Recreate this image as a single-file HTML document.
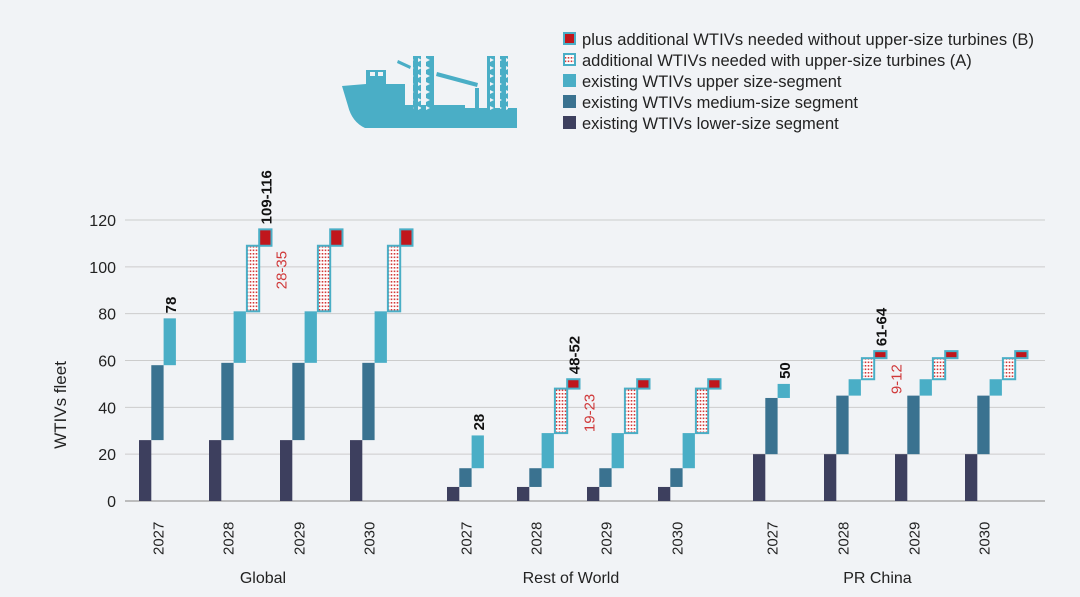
<!DOCTYPE html>
<html><head><meta charset="utf-8"><style>
body{margin:0;background:#f1f3f6;}
svg{display:block;font-family:"Liberation Sans",sans-serif;}
</style></head><body>
<svg id="chart" width="1080" height="597" viewBox="0 0 1080 597">
<defs>
<pattern id="dots" width="3" height="3.5" patternUnits="userSpaceOnUse"><rect width="3" height="3.5" fill="#fff"/><rect x="0.7" y="1" width="1.6" height="1.6" fill="#d23a3a"/></pattern>
<pattern id="lattice" width="8" height="8" patternUnits="userSpaceOnUse"><rect width="8" height="8" fill="#4aaec6"/><path d="M2 2 L6 4 L2 6 Z" fill="#f1f3f6"/></pattern>
</defs>
<rect width="1080" height="597" fill="#f1f3f6"/>
<g fill="#4aaec6">
<path d="M342 86 L366 84 L366 70 L386 70 L386 84 L405 84 L405 105 L465 105 L465 108 L475 108 L475 88 L479 88 L479 108 L517 108 L517 128 L365 128 Q352 122 348 106 Z"/>
<rect x="370" y="72" width="5" height="4" fill="#f1f3f6"/><rect x="378" y="72" width="5" height="4" fill="#f1f3f6"/>
<rect x="413" y="56" width="8" height="54" fill="url(#lattice)"/><rect x="426" y="56" width="8" height="54" fill="url(#lattice)"/>
<rect x="487" y="56" width="8" height="54" fill="url(#lattice)"/><rect x="500" y="56" width="8" height="54" fill="url(#lattice)"/>
<path d="M437 72 L478 83 L477 87 L436 76 Z"/><path d="M398 60 L411 66 L410 69 L397 63 Z"/>
</g>
<g id="legend" font-size="16.5" fill="#222">
<g><rect x="564" y="33" width="11" height="11" fill="#c0161c" stroke="#4aaec6" stroke-width="2"/><text x="582" y="45" textLength="452">plus additional WTIVs needed without upper-size turbines (B)</text></g>
<g><rect x="564" y="54" width="11" height="11" fill="url(#dots)" stroke="#4aaec6" stroke-width="2"/><text x="582" y="66">additional WTIVs needed with upper-size turbines (A)</text></g>
<g><rect x="563" y="74" width="13" height="13" fill="#4aaec6"/><text x="582" y="87">existing WTIVs upper size-segment</text></g>
<g><rect x="563" y="95" width="13" height="13" fill="#3a7290"/><text x="582" y="108">existing WTIVs medium-size segment</text></g>
<g><rect x="563" y="116" width="13" height="13" fill="#3d3f5e"/><text x="582" y="129">existing WTIVs lower-size segment</text></g>
</g>
<g id="grid"></g><g id="bars"></g><g id="labels"></g>
<text transform="translate(66,405) rotate(-90)" text-anchor="middle" font-size="17" fill="#222">WTIVs fleet</text>
</svg>
<script>
const regions=["Global","Rest of World","PR China"];
const years=["2027","2028","2029","2030"];
const lowerVals=[[26,26,26,26],[6,6,6,6],[20,20,20,20]];
const mediumTop=[[58,59,59,59],[14,14,14,14],[44,45,45,45]];
const upperTop=[[78,81,81,81],[28,29,29,29],[50,52,52,52]];
const aTop=[[0,109,109,109],[0,48,48,48],[0,61,61,61]];
const bTop=[[0,116,116,116],[0,52,52,52],[0,64,64,64]];
const totalLabels=[["78","109-116","",""],["28","48-52","",""],["50","61-64","",""]];
const addLabels=[["","28-35","",""],["","19-23","",""],["","9-12","",""]];
const yTicks=[0,20,40,60,80,100,120];
const NS="http://www.w3.org/2000/svg";
const y=v=>501-v*(281/120);
const groupX=[[139,209,280,350],[447,517,587,658],[753,824,895,965]];
const W=12.3;
function el(t,a,p){const e=document.createElementNS(NS,t);for(const k in a)e.setAttribute(k,a[k]);p.appendChild(e);return e;}
const grid=document.getElementById('grid'),bars=document.getElementById('bars'),labels=document.getElementById('labels');
yTicks.forEach(t=>{
 const l=el('line',{x1:125,x2:1045,y1:y(t),y2:y(t),stroke:t===0?'#aaa':'#ccc','stroke-width':t===0?1.5:1},grid);
 
 
 const tx=el('text',{x:116,y:y(t)+6,'text-anchor':'end','font-size':16,fill:'#222'},labels);tx.textContent=t;
 
 
});
function bar(x,v0,v1,fill,name,stroke){
 const r=el('rect',{x:x,y:y(v1),width:W,height:y(v0)-y(v1),fill:fill},bars);
 if(stroke){r.setAttribute('stroke',stroke);r.setAttribute('stroke-width',2);}
 
 
}
function vtext(x,yy,txt,col,name){
 const t=el('text',{transform:`translate(${x},${yy}) rotate(-90)`,'font-size':15,'font-weight':col==='#111'?'bold':'normal',fill:col},labels);t.textContent=txt;
 
 
}
regions.forEach((r,ri)=>{
 years.forEach((yr,yi)=>{
  const x=groupX[ri][yi];
  bar(x,0,lowerVals[ri][yi],'#3d3f5e','bar-lower-'+ri+'-'+yr);
  bar(x+W,lowerVals[ri][yi],mediumTop[ri][yi],'#3a7290','bar-medium-'+ri+'-'+yr);
  bar(x+2*W,mediumTop[ri][yi],upperTop[ri][yi],'#4aaec6','bar-upper-'+ri+'-'+yr);
  if(aTop[ri][yi]>0){
   bar(x+3*W+1,upperTop[ri][yi],aTop[ri][yi],'url(#dots)','bar-a-'+ri+'-'+yr,'#4aaec6');
   bar(x+4*W+1,aTop[ri][yi],bTop[ri][yi],'#c0161c','bar-b-'+ri+'-'+yr,'#4aaec6');
  }
  if(totalLabels[ri][yi]){
   const top=aTop[ri][yi]>0?bTop[ri][yi]:upperTop[ri][yi];
   const cx=aTop[ri][yi]>0?x+4.5*W+1:x+2.5*W;
   vtext(cx+6,y(top)-5,totalLabels[ri][yi],'#111','total-label-'+ri+'-'+yr);
  }
  if(addLabels[ri][yi]){
   vtext(x+5*W+16,y(aTop[ri][yi])+6+addLabels[ri][yi].length*7.5,addLabels[ri][yi],'#d0393a','add-label-'+ri+'-'+yr);
  }
  const t=el('text',{transform:`translate(${x+W*1.5+6},555) rotate(-90)`,'font-size':15,fill:'#222'},labels);t.textContent=yr;
  
  
 });
 const gx=(groupX[ri][0]+groupX[ri][3]+W*3)/2;
 const g=el('text',{x:gx,y:583,'text-anchor':'middle','font-size':16,fill:'#222'},labels);g.textContent=r;
 
 
});
</script>
</body></html>
